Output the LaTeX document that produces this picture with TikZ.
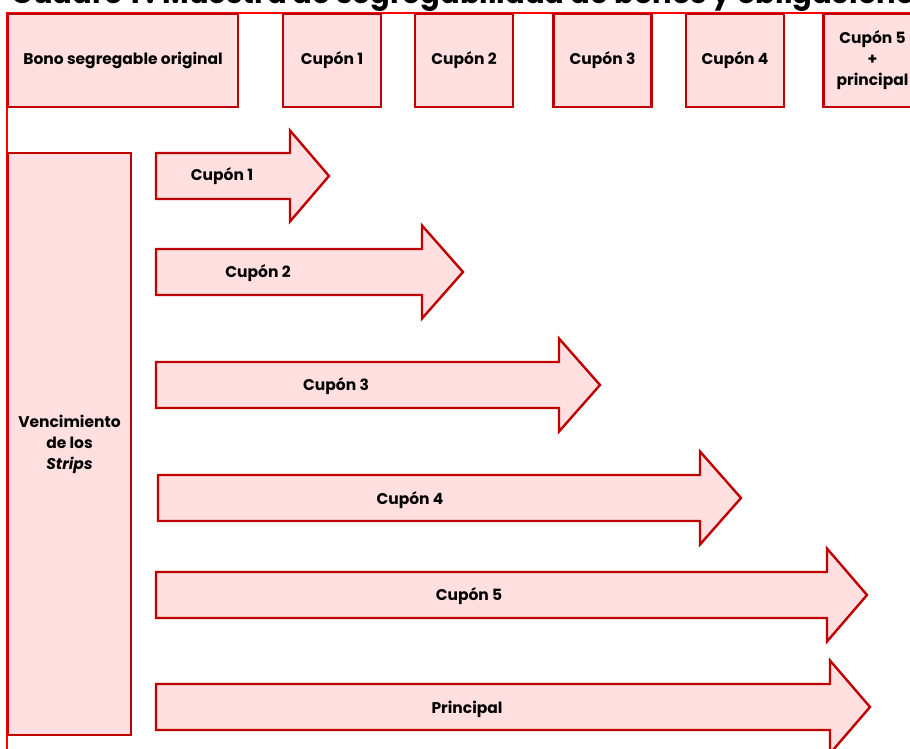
\documentclass[tikz,border=0pt]{standalone}
\usepackage{fontspec}
\setmainfont{Poppins}
\definecolor{stripred}{HTML}{C00000}
\definecolor{strippink}{HTML}{FFDFE0}
\definecolor{framered}{HTML}{FF0000}

\begin{document}
\begin{tikzpicture}[x=1pt, y=-1pt,
  bondbox/.style={draw=stripred, fill=strippink, line width=2.4pt, inner sep=0pt, align=center, font=\bfseries\fontsize{15.5}{21}\selectfont},
  striparrow/.style={draw=stripred, fill=strippink, line width=2.4pt, line join=miter},
  striplabel/.style={font=\bfseries\fontsize{15.5}{21}\selectfont}]
  \useasboundingbox (0,0) rectangle (910,749);
  \clip (0,0) rectangle (910,749);
  \node[anchor=base west, inner sep=0pt, font=\bfseries\fontsize{29}{34}\selectfont] (title) at (11,4) {Cuadro 1 : Muestra de segregabilidad de bonos y obligaciones};
  \draw[framered, line width=1.2pt] (7,749) -- (7,13) -- (910,13);

  \node[bondbox, minimum width=230pt, minimum height=93pt] (bono) at (123,60.5) {Bono segregable original};
  \node[bondbox, minimum width=98pt, minimum height=93pt] (top1) at (332,60.5) {Cupón 1};
  \node[bondbox, minimum width=98pt, minimum height=93pt] (top2) at (464,60.5) {Cupón 2};
  \node[bondbox, minimum width=98pt, minimum height=93pt] (top3) at (602.5,60.5) {Cupón 3};
  \node[bondbox, minimum width=98pt, minimum height=93pt] (top4) at (735,60.5) {Cupón 4};
  \node[bondbox, minimum width=98pt, minimum height=93pt] (top5) at (872.5,60.5) {Cupón 5\\+\\principal};

  \node[bondbox, minimum width=123pt, minimum height=582pt] (venc) at (69.5,444) {Vencimiento\\de los\\\textit{Strips}};

  \draw[striparrow] (156,153) -- (290,153) -- (290,130.5) -- (329,176) -- (290,221.5) -- (290,199) -- (156,199) -- cycle;
  \node[striplabel] (strip1) at (222,176) {Cupón 1};
  \draw[striparrow] (156,249) -- (422,249) -- (422,225.5) -- (463,272) -- (422,318.5) -- (422,295) -- (156,295) -- cycle;
  \node[striplabel] (strip2) at (258,273) {Cupón 2};
  \draw[striparrow] (156,362) -- (559,362) -- (559,338.5) -- (600,385) -- (559,431.5) -- (559,408) -- (156,408) -- cycle;
  \node[striplabel] (strip3) at (336,386) {Cupón 3};
  \draw[striparrow] (158,475) -- (700,475) -- (700,451.5) -- (741,498) -- (700,544.5) -- (700,521) -- (158,521) -- cycle;
  \node[striplabel] (strip4) at (410,500) {Cupón 4};
  \draw[striparrow] (156,572) -- (827,572) -- (827,548.5) -- (867,595) -- (827,641.5) -- (827,618) -- (156,618) -- cycle;
  \node[striplabel] (strip5) at (469,596) {Cupón 5};
  \draw[striparrow] (156,684) -- (830,684) -- (830,660.5) -- (870,707) -- (830,753.5) -- (830,730) -- (156,730) -- cycle;
  \node[striplabel] (strip6) at (467,709) {Principal};
\end{tikzpicture}
\end{document}
